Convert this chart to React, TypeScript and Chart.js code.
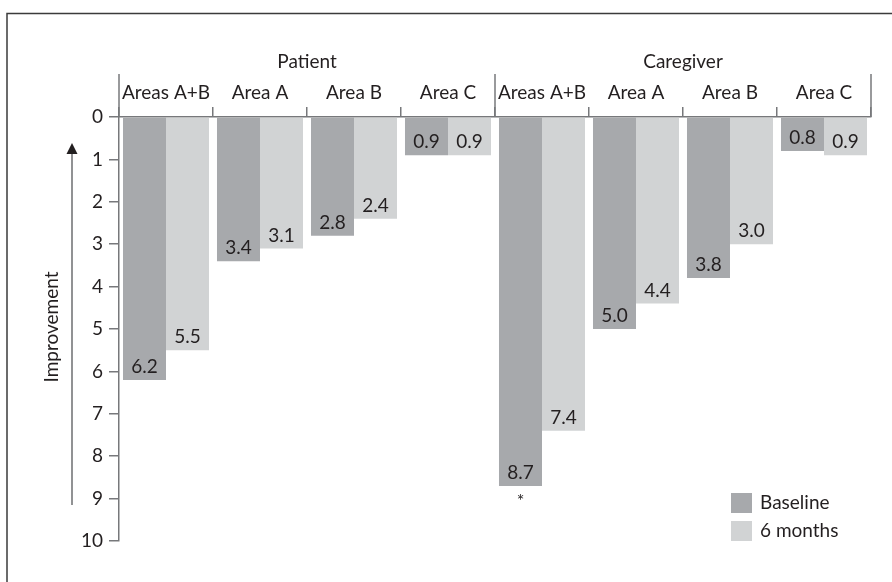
import React, { useEffect, useRef } from "react";
import { Chart, registerables } from "chart.js";

Chart.register(...registerables);

const categories = ["Areas A+B", "Area A", "Area B", "Area C", "Areas A+B", "Area A", "Area B", "Area C"];
const groups = ["Patient", "Caregiver"];
const baseline = [6.2, 3.4, 2.8, 0.9, 8.7, 5.0, 3.8, 0.8];
const sixMonths = [5.5, 3.1, 2.4, 0.9, 7.4, 4.4, 3.0, 0.9];
const seriesNames = ["Baseline", "6 months"];
const significant = [false, false, false, false, true, false, false, false];
const yTicks = [0, 1, 2, 3, 4, 5, 6, 7, 8, 9, 10];
const axisTitle = "Improvement";

const DARK = "#a7a9ac";
const LIGHT = "#d1d3d4";
const TEXT = "#231f20";
const AXIS = "#77787b";
const FONT = "Lato, 'Open Sans', sans-serif";

const overlay = {
  id: "overlay",
  afterDraw(chart: any) {
    const ctx = chart.ctx;
    const area = chart.chartArea;
    const x = chart.scales.x;
    const y = chart.scales.y;
    ctx.save();

    // frame
    ctx.strokeStyle = "#3b3b3b";
    ctx.lineWidth = 1.5;
    ctx.beginPath();
    ctx.moveTo(7, chart.height + 2);
    ctx.lineTo(7, 13.5);
    ctx.lineTo(chart.width + 2, 13.5);
    ctx.stroke();

    // long group dividers
    const n = categories.length;
    const per = n / groups.length;
    const step = (area.right - area.left) / n;
    ctx.strokeStyle = AXIS;
    ctx.lineWidth = 1.5;
    for (let g = 0; g <= groups.length; g++) {
      const px = area.left + g * per * step;
      ctx.beginPath();
      ctx.moveTo(px, 74);
      ctx.lineTo(px, area.top);
      ctx.stroke();
    }
    // group labels
    ctx.fillStyle = TEXT;
    ctx.font = "19px " + FONT;
    ctx.textAlign = "center";
    ctx.textBaseline = "middle";
    groups.forEach((gname, g) => {
      const left = x.getPixelForValue(g * per) - step / 2;
      const right = x.getPixelForValue(g * per + per - 1) + step / 2;
      ctx.fillText(gname, (left + right) / 2, 62);
    });

    // value labels
    chart.data.datasets.forEach((ds: any, di: number) => {
      const meta = chart.getDatasetMeta(di);
      meta.data.forEach((bar: any, i: number) => {
        ctx.fillText(Number(ds.data[i]).toFixed(1), bar.x, bar.y - 13);
      });
    });

    // asterisks
    const m0 = chart.getDatasetMeta(0);
    significant.forEach((s, i) => {
      if (!s) return;
      const bar = m0.data[i];
      ctx.font = "18px " + FONT;
      ctx.fillText("*", bar.x, bar.y + 15);
    });

    // legend
    const colors = [DARK, LIGHT];
    ctx.font = "19px " + FONT;
    ctx.textAlign = "left";
    seriesNames.forEach((name, i) => {
      const top = 493 + i * 28;
      ctx.fillStyle = colors[i];
      ctx.fillRect(731, top, 21, 20);
      ctx.fillStyle = TEXT;
      ctx.fillText(name, 760, top + 10);
    });

    // arrow
    ctx.strokeStyle = "#6d6e71";
    ctx.lineWidth = 1.5;
    ctx.beginPath();
    ctx.moveTo(72, y.getPixelForValue(9.15));
    ctx.lineTo(72, 150);
    ctx.stroke();
    ctx.fillStyle = TEXT;
    ctx.beginPath();
    ctx.moveTo(72, 143);
    ctx.lineTo(66.5, 154);
    ctx.lineTo(77.5, 154);
    ctx.closePath();
    ctx.fill();

    // axis title
    ctx.save();
    ctx.translate(52, (area.top + area.bottom) / 2 - 2);
    ctx.rotate(-Math.PI / 2);
    ctx.textAlign = "center";
    ctx.textBaseline = "middle";
    ctx.fillStyle = TEXT;
    ctx.font = "19px " + FONT;
    ctx.fillText(axisTitle, 0, 0);
    ctx.restore();

    ctx.restore();
  },
};

export default function App() {
  const ref = useRef<HTMLCanvasElement | null>(null);
  useEffect(() => {
    if (!ref.current) return;
    const chart = new Chart(ref.current, {
      type: "bar",
      data: {
        labels: categories,
        datasets: [
          { label: seriesNames[0], data: baseline, backgroundColor: DARK, borderWidth: 0 },
          { label: seriesNames[1], data: sixMonths, backgroundColor: LIGHT, borderWidth: 0 },
        ],
      },
      options: {
        responsive: false,
        animation: false,
        events: [],
        layout: { padding: { left: 0, right: 21, top: 0, bottom: 41 } },
        datasets: { bar: { categoryPercentage: 0.915, barPercentage: 1.0 } },
        plugins: { legend: { display: false }, tooltip: { enabled: false }, title: { display: false } },
        scales: {
          x: {
            position: "top",
            offset: true,
            grid: {
              offset: true,
              drawOnChartArea: false,
              drawTicks: true,
              tickLength: 10,
              color: AXIS,
              lineWidth: 1.5,
            },
            border: { display: true, color: AXIS, width: 1.5 },
            ticks: {
              color: TEXT,
              font: { family: FONT, size: 19 },
              padding: 3,
              maxRotation: 0,
              autoSkip: false,
            },
            afterFit: (s: any) => {
              s.height = 117;
            },
          },
          y: {
            reverse: true,
            min: 0,
            max: 10,
            afterBuildTicks: (s: any) => {
              s.ticks = yTicks.map((v) => ({ value: v }));
            },
            grid: {
              drawOnChartArea: false,
              drawTicks: true,
              tickLength: 10,
              color: AXIS,
              lineWidth: 1.5,
            },
            border: { display: true, color: AXIS, width: 1.5 },
            ticks: {
              color: TEXT,
              font: { family: FONT, size: 19 },
              padding: 6,
            },
            afterFit: (s: any) => {
              s.width = 119;
            },
          },
        },
      },
      plugins: [overlay],
    });
    return () => chart.destroy();
  }, []);
  return (
    <div style={{ position: "fixed", left: 0, top: 0, width: 892, height: 582, background: "#fff" }}>
      <canvas ref={ref} width={892} height={582} style={{ display: "block" }} />
    </div>
  );
}
